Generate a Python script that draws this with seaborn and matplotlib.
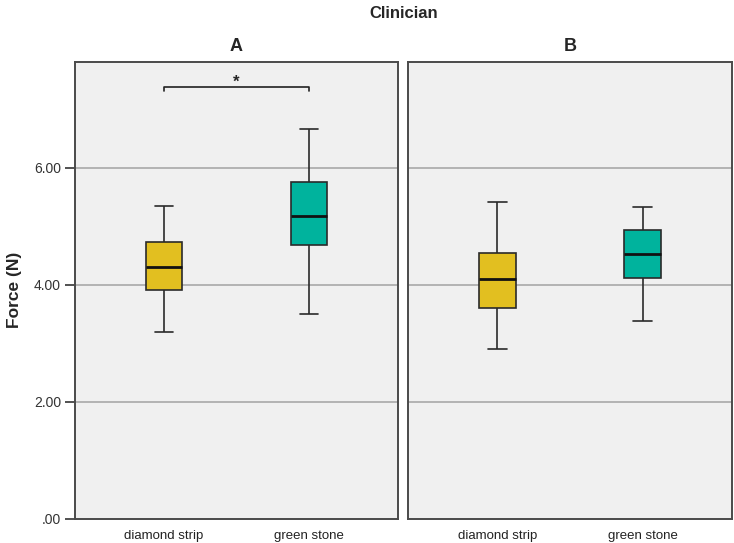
import numpy as np
import pandas as pd
import matplotlib
matplotlib.use("Agg")
import matplotlib.pyplot as plt
import seaborn as sns

sns.set_style("white")
plt.rcParams['font.family'] = ['Liberation Sans', 'DejaVu Sans']

panels = ["A", "B"]
tools = ["diamond strip", "green stone"]
# five-number summaries: min, Q1, median, Q3, max
stats_A_diamond = [3.19, 3.92, 4.31, 4.74, 5.35]
stats_A_green = [3.51, 4.69, 5.18, 5.76, 6.66]
stats_B_diamond = [2.91, 3.61, 4.11, 4.55, 5.42]
stats_B_green = [3.39, 4.12, 4.53, 4.94, 5.33]
yticks = [0, 2, 4, 6]
ytick_labels = [".00", "2.00", "4.00", "6.00"]
colors = ["#E2BF20", "#00B39D"]

rows = []
for panel, series in zip(panels, [(stats_A_diamond, stats_A_green), (stats_B_diamond, stats_B_green)]):
    for tool, vals in zip(tools, series):
        for v in vals:
            rows.append({"panel": panel, "tool": tool, "force": v})
df = pd.DataFrame(rows)

W, H = 734, 543
fig = plt.figure(figsize=(W / 100, H / 100), dpi=100)
top, bottom = 62, 519
axA = fig.add_axes([75 / W, 1 - bottom / H, (398 - 75) / W, (bottom - top) / H])
axB = fig.add_axes([408 / W, 1 - bottom / H, (732 - 408) / W, (bottom - top) / H])

for ax, panel in zip([axA, axB], panels):
    ax.set_facecolor("#F0F0F0")
    for y in [2, 4, 6]:
        ax.axhline(y, color="#A3A3A3", lw=1.1, zorder=0)
    sub = df[df.panel == panel]
    sns.boxplot(data=sub, x="tool", y="force", hue="tool", order=tools, hue_order=tools,
                palette=colors, whis=np.inf, width=0.255, linewidth=1.2, linecolor="#2a2a2a",
                medianprops=dict(color="#111111", linewidth=2.0),
                legend=False, ax=ax, saturation=1)
    ax.set_xlim(-0.614, 1.614)
    ax.set_ylim(0, 7.81)
    ax.set_xlabel("")
    ax.set_ylabel("")
    ax.tick_params(axis="x", length=0, labelsize=9.5, pad=8, colors="#222222")
    for s in ax.spines.values():
        s.set_color("#4a4a4a")
        s.set_linewidth(1.4)
    ax.set_title(panel, fontsize=13, fontweight="bold", pad=8)

axA.set_yticks(yticks)
axA.set_yticklabels(ytick_labels)
axA.tick_params(axis="y", length=7, width=1.2, labelsize=10, colors="#333333", left=True, pad=3)
axB.set_yticks([])

fig.text(15 / W, 1 - 290 / H, "Force (N)", rotation=90, ha="center", va="center",
         fontsize=12.5, fontweight="bold")

# significance bracket
yb = 7.38
axA.plot([0, 0, 1, 1], [yb - 0.07, yb, yb, yb - 0.07], color="#222222", lw=1.2)
axA.text(0.5, yb - 0.04, "*", ha="center", va="bottom", fontsize=12, fontweight="bold")

fig.text(404 / W, 1 - 13 / H, "Clinician", ha="center", va="center", fontsize=12, fontweight="bold")

fig.savefig("out.png", dpi=100, facecolor="white")
